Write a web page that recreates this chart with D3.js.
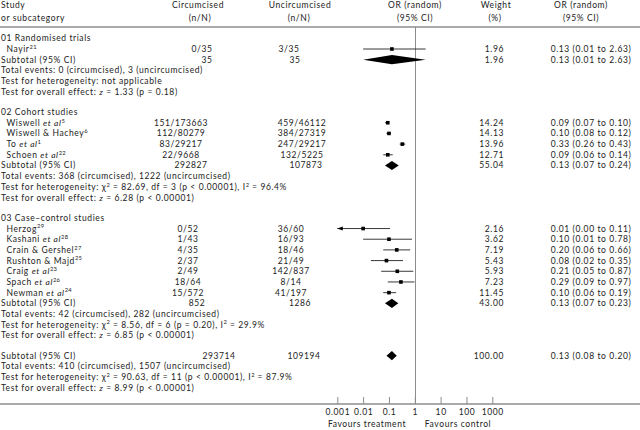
<!DOCTYPE html>
<html>
<head>
<meta charset="utf-8">
<script src="https://cdn.jsdelivr.net/npm/d3@7"></script>
<style>
body { margin: 0; background: #fff; }
svg text { font-family: Lato, "Open Sans", sans-serif; font-size: 8.5px; letter-spacing: 0.6px; fill: #222; }
</style>
</head>
<body>
<div id="chart"></div>
<script>
// ---- data ----
var sectionNames = ["01 Randomised trials", "02 Cohort studies", "03 Case\u2013control studies"];

var studyNames = [
    ["Nayir"],
    ["Wiswell et al", "Wiswell & Hachey", "To et al", "Schoen et al"],
    ["Herzog", "Kashani et al", "Crain & Gershel", "Rushton & Majd", "Craig et al", "Spach et al", "Newman et al"]
];
var studyRefs = [
    ["21"],
    ["5", "6", "1", "22"],
    ["29", "28", "27", "25", "23", "26", "24"]
];
var circumcised = [
    ["0/35"],
    ["151/173663", "112/80279", "83/29217", "22/9668"],
    ["0/52", "1/43", "4/35", "2/37", "2/49", "18/64", "15/572"]
];
var uncircumcised = [
    ["3/35"],
    ["459/46112", "384/27319", "247/29217", "132/5225"],
    ["36/60", "16/93", "18/46", "21/49", "142/837", "8/14", "41/197"]
];
var weights = [
    [1.96],
    [14.24, 14.13, 13.96, 12.71],
    [2.16, 3.62, 7.19, 5.43, 5.93, 7.23, 11.45]
];
var orValue = [
    [0.13],
    [0.09, 0.10, 0.33, 0.09],
    [0.01, 0.10, 0.20, 0.08, 0.21, 0.29, 0.10]
];
var orLower = [
    [0.01],
    [0.07, 0.08, 0.26, 0.06],
    [0.00, 0.01, 0.06, 0.02, 0.05, 0.09, 0.06]
];
var orUpper = [
    [2.63],
    [0.10, 0.12, 0.43, 0.14],
    [0.11, 0.78, 0.66, 0.35, 0.87, 0.97, 0.19]
];

// subtotals per section, then the overall total as last entry
var subCirc = [35, 292827, 852, 293714];
var subUncirc = [35, 107873, 1286, 109194];
var subWeight = [1.96, 55.04, 43.00, 100.00];
var subOr = [0.13, 0.13, 0.13, 0.13];
var subLower = [0.01, 0.07, 0.07, 0.08];
var subUpper = [2.63, 0.24, 0.23, 0.20];
var eventsCirc = [0, 368, 42, 410];
var eventsUncirc = [3, 1222, 282, 1507];
var hetChi2 = [null, "82.69", "8.56", "90.63"];
var hetDf = [null, 3, 6, 11];
var hetP = [null, "< 0.00001", "= 0.20", "< 0.00001"];
var hetI2 = [null, "96.4", "29.9", "87.9"];
var effectZ = ["1.33", "6.28", "6.85", "8.99"];
var effectP = ["= 0.18", "< 0.00001", "< 0.00001", "< 0.00001"];

var tickValues = [0.001, 0.01, 0.1, 1, 10, 100, 1000];
var tickLabels = ["0.001", "0.01", "0.1", "1", "10", "100", "1000"];

// ---- layout ----
var width = 640, height = 430;
var lineColor = "#8c8c8c";
var col = {
    name: 1, study: 6.5,
    circ: [202, 181, 188, 219], unc: [289, 302, 291, 304],
    circSub: [207, 191, 197, 219], uncSub: [295, 306, 300, 304],
    weight: 504, orText: 591
};
var axisY = 404, headerLineY = 27;

// row index -> pixel
var y = d3.scaleLinear().domain([1, 29.7]).range([49, 355.7]);
var x = d3.scaleLog().domain([0.001, 1000]).range([337.3, 492.3]);

var fmt2 = d3.format(".2f");

var svg = d3.select("#chart").append("svg")
        .attr("width", width)
        .attr("height", height);

// helper: append text made of parts (italic / superscript)
function rich(sel, parts) {
    var shift = 0;
    parts.forEach(function(p) {
        var ts = sel.append("tspan").text(p.t);
        var target = p.sup ? -3.2 : 0;
        if (target !== shift) { ts.attr("dy", target - shift); shift = target; }
        if (p.sup) ts.style("font-size", "5.8px").style("letter-spacing", "0.3px");
        if (p.it) ts.style("font-style", "italic");
    });
}

function nameParts(name, ref) {
    var parts = [];
    var i = name.indexOf("et al");
    if (i >= 0) {
        parts.push({t: name.slice(0, i)});
        parts.push({t: "et al", it: true});
    } else {
        parts.push({t: name});
    }
    parts.push({t: ref, sup: true});
    return parts;
}

function addText(tx, ty, anchor) {
    return svg.append("text")
        .attr("x", tx)
        .attr("y", ty)
        .attr("dy", "0.35em")
        .attr("text-anchor", anchor || "start");
}

function orLabel(v, lo, hi) {
    return fmt2(v) + " (" + fmt2(lo) + " to " + fmt2(hi) + ")";
}

// header
addText(col.name, 5.5).text("Study");
addText(col.name, 18).text("or subcategory");
addText(198, 5.5, "middle").text("Circumcised");
addText(200, 18, "middle").text("(n/N)");
addText(300, 5.5, "middle").text("Uncircumcised");
addText(299, 18, "middle").text("(n/N)");
addText(415, 5.5, "middle").text("OR (random)");
addText(415, 18, "middle").text("(95% CI)");
addText(496, 5.5, "middle").text("Weight");
addText(495, 18, "middle").text("(%)");
addText(581, 5.5, "middle").text("OR (random)");
addText(581, 18, "middle").text("(95% CI)");

svg.append("line")
    .attr("x1", 0).attr("x2", width)
    .attr("y1", headerLineY).attr("y2", headerLineY)
    .attr("stroke", lineColor).attr("stroke-width", 1.3);

// vertical line of no effect
svg.append("line")
    .attr("x1", Math.round(x(1)) + 0.5).attr("x2", Math.round(x(1)) + 0.5)
    .attr("y1", headerLineY).attr("y2", axisY)
    .attr("stroke", lineColor).attr("stroke-width", 1);

function diamond(row, v, lo, hi) {
    var cy = y(row), h = 4.6;
    svg.append("path")
        .attr("d", "M" + x(lo) + "," + cy + "L" + x(v) + "," + (cy - h) +
                   "L" + x(hi) + "," + cy + "L" + x(v) + "," + (cy + h) + "Z")
        .attr("fill", "#000");
}

function summaryRows(row, s) {
    addText(col.name, y(row)).text("Subtotal (95% CI)");
    addText(col.circSub[s], y(row), "middle").text(subCirc[s]);
    addText(col.uncSub[s], y(row), "middle").text(subUncirc[s]);
    addText(col.weight, y(row), "end").text(fmt2(subWeight[s]));
    addText(col.orText, y(row), "middle").text(orLabel(subOr[s], subLower[s], subUpper[s]));
    diamond(row, subOr[s], subLower[s], subUpper[s]);

    addText(col.name, y(row + 1)).text("Total events: " + eventsCirc[s] +
        " (circumcised), " + eventsUncirc[s] + " (uncircumcised)");

    var het = addText(col.name, y(row + 2));
    if (hetChi2[s] === null) {
        het.text("Test for heterogeneity: not applicable");
    } else {
        rich(het, [
            {t: "Test for heterogeneity: \u03c7"}, {t: "2", sup: true},
            {t: " = " + hetChi2[s] + ", df = " + hetDf[s] + " (p " + hetP[s] + "), I"},
            {t: "2", sup: true}, {t: " = " + hetI2[s] + "%"}
        ]);
    }
    rich(addText(col.name, y(row + 3)), [
        {t: "Test for overall effect: "}, {t: "z", it: true},
        {t: " = " + effectZ[s] + " (p " + effectP[s] + ")"}
    ]);
}

// sections
var row = 0;
sectionNames.forEach(function(sec, s) {
    addText(col.name, y(row)).text(sec);
    row += 1;
    studyNames[s].forEach(function(name, i) {
        var cy = y(row);
        rich(addText(col.study, cy), nameParts(name, studyRefs[s][i]));
        addText(col.circ[s], cy, "middle").text(circumcised[s][i]);
        addText(col.unc[s], cy, "middle").text(uncircumcised[s][i]);
        addText(col.weight, cy, "end").text(fmt2(weights[s][i]));
        addText(col.orText, cy, "middle").text(orLabel(orValue[s][i], orLower[s][i], orUpper[s][i]));

        var lo = orLower[s][i], hi = orUpper[s][i];
        var clipped = lo < x.domain()[0];
        var x0 = clipped ? x.range()[0] : x(lo);
        svg.append("line")
            .attr("x1", x0).attr("x2", x(hi))
            .attr("y1", cy).attr("y2", cy)
            .attr("stroke", "#222").attr("stroke-width", 0.9);
        if (clipped) {
            svg.append("path")
                .attr("d", "M" + x0 + "," + cy + "L" + (x0 + 5.5) + "," + (cy - 2) +
                           "L" + (x0 + 5.5) + "," + (cy + 2) + "Z")
                .attr("fill", "#000");
        }
        var sz = 3.6;
        svg.append("rect")
            .attr("x", x(orValue[s][i]) - sz / 2)
            .attr("y", cy - sz / 2)
            .attr("width", sz).attr("height", sz)
            .attr("fill", "#000");
        row += 1;
    });
    summaryRows(row, s);
    row += 3 + 1.9;
});

// overall
summaryRows(row, 3);

// axis
svg.append("line")
    .attr("x1", 0).attr("x2", width)
    .attr("y1", axisY).attr("y2", axisY)
    .attr("stroke", lineColor).attr("stroke-width", 1.3);

var xAxis = d3.axisBottom(x)
        .tickValues(tickValues)
        .tickFormat(function(d, i) { return tickLabels[i]; })
        .tickSizeInner(-7)
        .tickSizeOuter(0)
        .tickPadding(5);

var gAxis = svg.append("g")
        .attr("transform", "translate(0," + axisY + ")")
        .call(xAxis);
gAxis.select(".domain").remove();
gAxis.selectAll(".tick line").attr("stroke", lineColor);
gAxis.selectAll(".tick text").style("fill", "#222");
gAxis.attr("font-family", null).attr("font-size", null);

addText(367, 424.5, "middle").text("Favours treatment");
addText(458, 424.5, "middle").text("Favours control");
</script>
</body>
</html>
